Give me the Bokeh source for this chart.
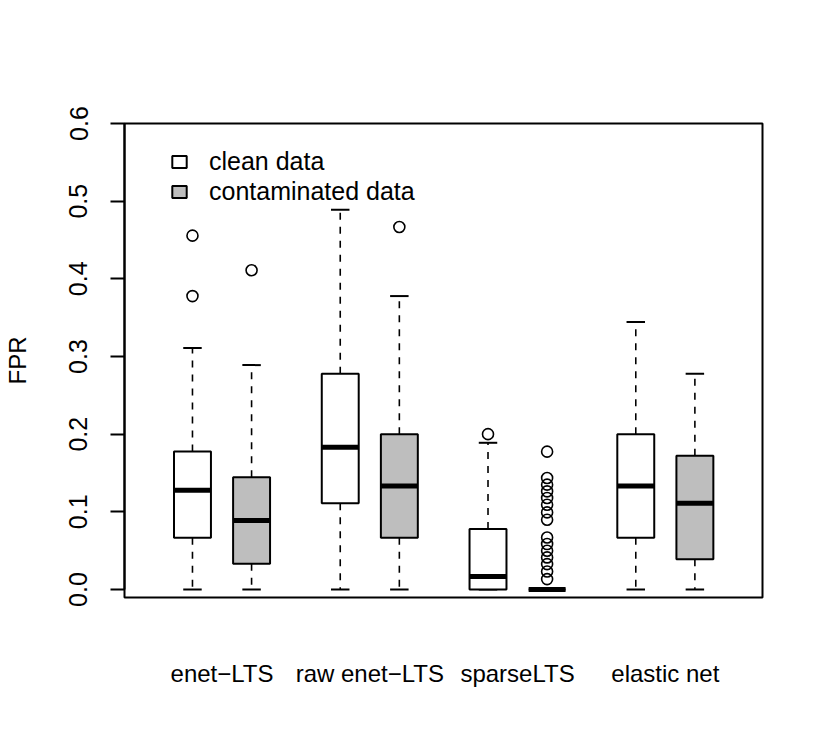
from bokeh.plotting import figure
from bokeh.models import (ColumnDataSource, FixedTicker, Legend, LegendItem,
                          Range1d, PrintfTickFormatter)
from bokeh.embed import file_html
from bokeh.resources import INLINE

# ---------------- data ----------------
methods = ["enet\u2212LTS", "raw enet\u2212LTS", "sparseLTS", "elastic net"]
series = ["clean data", "contaminated data"]
y_ticks = [0.0, 0.1, 0.2, 0.3, 0.4, 0.5, 0.6]

clean_low = [0.0, 0.0, 0.0, 0.0]
clean_q1 = [0.0667, 0.1111, 0.0, 0.0667]
clean_med = [0.1278, 0.1833, 0.0167, 0.1333]
clean_q3 = [0.1778, 0.2778, 0.0778, 0.2000]
clean_high = [0.3111, 0.4889, 0.1889, 0.3444]
clean_outliers = [[0.4556, 0.3778], [], [0.2000], []]

contam_low = [0.0, 0.0, 0.0, 0.0]
contam_q1 = [0.0333, 0.0667, 0.0, 0.0389]
contam_med = [0.0889, 0.1333, 0.0, 0.1111]
contam_q3 = [0.1444, 0.2000, 0.0, 0.1722]
contam_high = [0.2889, 0.3778, 0.0, 0.2778]
contam_outliers = [[0.4111], [0.4667],
                   [0.1775, 0.1435, 0.1350, 0.1264, 0.1178, 0.1092, 0.0993,
                    0.0899, 0.0670, 0.0585, 0.0499, 0.0413, 0.0327, 0.0232,
                    0.0134],
                   []]

# ---------------- layout ----------------
FONT = "Liberation Sans"
BOXW = 0.625
group_centers = [1.5 + 2.5 * i for i in range(len(methods))]

p = figure(width=825, height=750, output_backend="svg", toolbar_location=None,
           x_range=Range1d(-0.150, 10.644), y_range=Range1d(-0.0103, 0.6),
           min_border_left=123, min_border_right=63,
           min_border_top=123, min_border_bottom=153)
p.xgrid.visible = False
p.ygrid.visible = False
p.outline_line_color = "black"
p.outline_line_width = 2
p.background_fill_color = "white"
p.border_fill_color = "white"


def draw(offset, q1, med, q3, low, high, outl, fill):
    xs = [g + offset for g in group_centers]
    src = ColumnDataSource(dict(x=xs, q1=q1, med=med, q3=q3, low=low, high=high,
                                xl=[x - BOXW / 2 for x in xs],
                                xr=[x + BOXW / 2 for x in xs],
                                cl=[x - BOXW / 4 for x in xs],
                                cr=[x + BOXW / 4 for x in xs]))
    # whiskers (dashed)
    p.segment(x0="x", y0="q3", x1="x", y1="high", source=src,
              line_color="black", line_width=1.6, line_dash="7 7")
    p.segment(x0="x", y0="q1", x1="x", y1="low", source=src,
              line_color="black", line_width=1.6, line_dash="7 7")
    # staples
    p.segment(x0="cl", y0="high", x1="cr", y1="high", source=src,
              line_color="black", line_width=2)
    p.segment(x0="cl", y0="low", x1="cr", y1="low", source=src,
              line_color="black", line_width=2)
    # boxes
    r = p.vbar(x="x", width=BOXW, bottom="q1", top="q3", source=src,
               fill_color=fill, line_color="black", line_width=2)
    # medians
    p.segment(x0="xl", y0="med", x1="xr", y1="med", source=src,
              line_color="black", line_width=5, line_cap="butt")
    # outliers
    ox, oy = [], []
    for x, vals in zip(xs, outl):
        for v in vals:
            ox.append(x)
            oy.append(v)
    p.scatter(ox, oy, marker="circle", size=11, fill_color=None,
              line_color="black", line_width=1.6)
    return r


r_clean = draw(-0.5, clean_q1, clean_med, clean_q3, clean_low, clean_high,
               clean_outliers, "white")
r_cont = draw(0.5, contam_q1, contam_med, contam_q3, contam_low, contam_high,
              contam_outliers, "#BEBEBE")

# y axis
ya = p.yaxis[0]
ya.ticker = FixedTicker(ticks=y_ticks)
ya.formatter = PrintfTickFormatter(format="%.1f")
ya.bounds = (0, 0.6)
ya.axis_line_width = 2
ya.major_tick_line_width = 2
ya.major_tick_out = 14
ya.major_tick_in = 0
ya.minor_tick_line_color = None
ya.major_label_orientation = "vertical"
ya.major_label_standoff = 23
ya.major_label_text_font = FONT
ya.major_label_text_font_size = "25px"
ya.major_label_text_color = "black"
ya.axis_label = "FPR"
ya.axis_label_text_font = FONT
ya.axis_label_text_font_size = "24px"
ya.axis_label_text_font_style = "normal"
ya.axis_label_text_color = "black"
ya.axis_label_standoff = 36

# x axis: group labels only
xa = p.xaxis[0]
xa.ticker = FixedTicker(ticks=group_centers)
xa.major_label_overrides = {g: m for g, m in zip(group_centers, methods)}
xa.axis_line_color = None
xa.major_tick_line_color = None
xa.minor_tick_line_color = None
xa.major_tick_out = 0
xa.major_tick_in = 0
xa.major_label_standoff = 62
xa.major_label_text_font = FONT
xa.major_label_text_font_size = "24px"
xa.major_label_text_color = "black"

legend = Legend(items=[LegendItem(label=series[0], renderers=[r_clean]),
                       LegendItem(label=series[1], renderers=[r_cont])],
                location=(46, 391))
legend.label_text_font = FONT
legend.label_text_font_size = "25px"
legend.label_text_color = "black"
legend.glyph_width = 18
legend.glyph_height = 15
legend.label_height = 30
legend.spacing = 0
legend.padding = 0
legend.margin = 0
legend.label_standoff = 21
legend.border_line_alpha = 0
legend.background_fill_alpha = 0
p.add_layout(legend)

open("out.html", "w").write(file_html(p, INLINE))
